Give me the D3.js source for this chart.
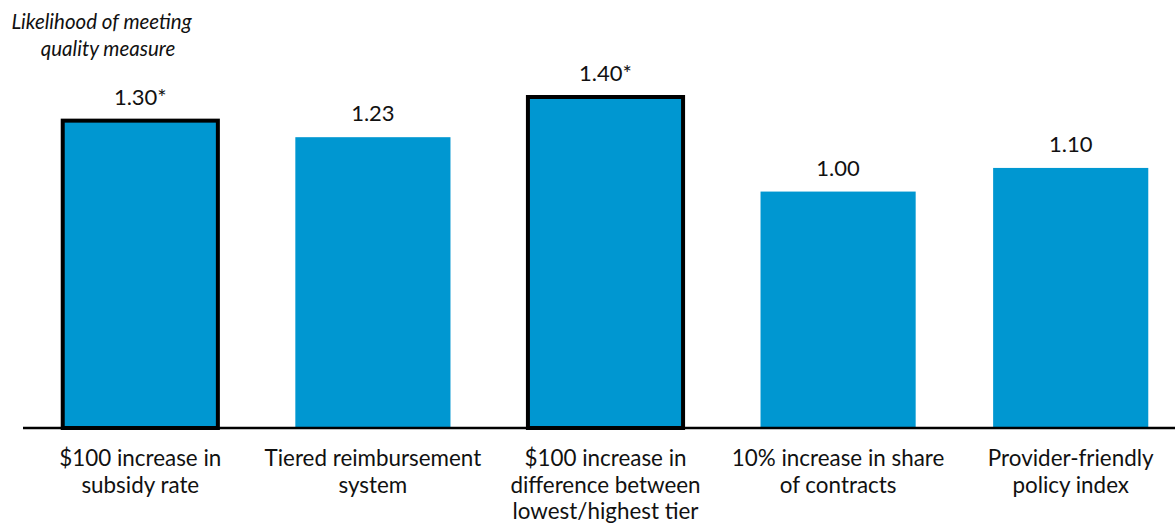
<!DOCTYPE html>
<html>
<head>
<meta charset="utf-8">
<script src="https://cdn.jsdelivr.net/npm/d3@7"></script>
<style>
  html, body { margin: 0; padding: 0; background: #fff; }
  svg { display: block; font-family: Lato, "Open Sans", sans-serif; }
</style>
</head>
<body>
<svg id="chart" width="1175" height="523"></svg>
<script>
// Policy measures and their estimated likelihood ratios
const categories = [
  ["$100 increase in", "subsidy rate"],
  ["Tiered reimbursement", "system"],
  ["$100 increase in", "difference between", "lowest/highest tier"],
  ["10% increase in share", "of contracts"],
  ["Provider-friendly", "policy index"]
];
const values = [1.30, 1.23, 1.40, 1.00, 1.10];
const valueLabels = ["1.30*", "1.23", "1.40*", "1.00", "1.10"];
const significant = [true, false, true, false, false];
const titleLines = ["Likelihood of meeting", "quality measure"];

const svg = d3.select("#chart");
const W = 1175, H = 523;
const baseY = 428;

const x = d3.scaleBand()
  .domain(d3.range(values.length))
  .range([24, 1187])
  .paddingInner(0.333)
  .paddingOuter(0.1665);

const y = d3.scaleLinear()
  .domain([0, 1.40])
  .range([baseY, 97]);

const blue = "#0097d1";

// Bars (statistically significant estimates get a black outline)
svg.append("g").selectAll("rect")
  .data(values)
  .join("rect")
  .attr("x", (d, i) => x(i))
  .attr("y", d => y(d))
  .attr("width", x.bandwidth())
  .attr("height", d => baseY - y(d))
  .attr("fill", blue)
  .attr("stroke", (d, i) => significant[i] ? "#000" : "none")
  .attr("stroke-width", 4);

// Baseline
svg.append("line")
  .attr("x1", 23).attr("x2", W)
  .attr("y1", baseY).attr("y2", baseY)
  .attr("stroke", "#000")
  .attr("stroke-width", 2.5);

// Value labels
svg.append("g").selectAll("text")
  .data(values)
  .join("text")
  .attr("x", (d, i) => x(i) + x.bandwidth() / 2)
  .attr("y", d => y(d) - 16)
  .attr("text-anchor", "middle")
  .attr("font-size", 22)
  .attr("fill", "#111")
  .text((d, i) => valueLabels[i]);

// Category labels
const catG = svg.append("g");
categories.forEach((lines, i) => {
  const t = catG.append("text")
    .attr("text-anchor", "middle")
    .attr("font-size", 22.4)
    .attr("fill", "#111");
  lines.forEach((ln, j) => {
    t.append("tspan")
      .attr("x", x(i) + x.bandwidth() / 2)
      .attr("y", 466 + j * 26.5)
      .text(ln);
  });
});

// Axis title
const title = svg.append("text")
  .attr("text-anchor", "middle")
  .attr("font-size", 20.5)
  .attr("font-style", "italic")
  .attr("fill", "#111");
titleLines.forEach((ln, j) => {
  title.append("tspan")
    .attr("x", 101.5 + j * 6.5)
    .attr("y", 29 + j * 27)
    .text(ln);
});
</script>
</body>
</html>
